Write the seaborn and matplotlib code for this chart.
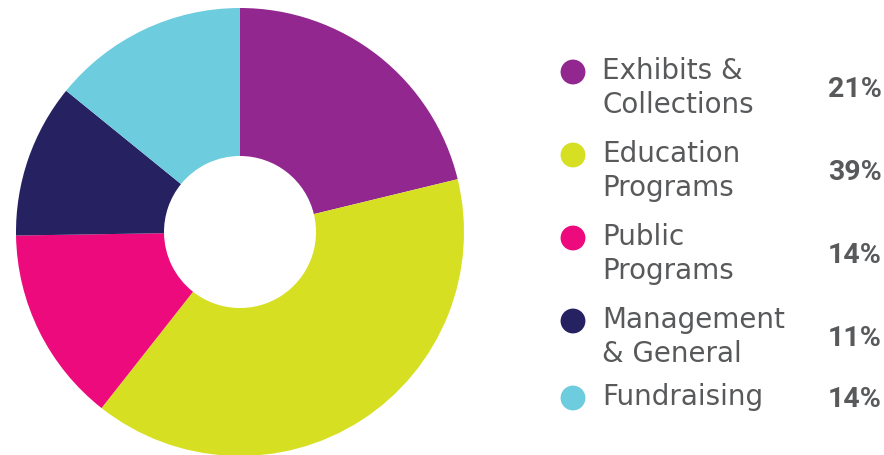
import matplotlib
matplotlib.use('Agg')
import seaborn as sns
import pandas as pd
import matplotlib.pyplot as plt

labels = ['Exhibits &\nCollections', 'Education\nPrograms', 'Public\nPrograms',
          'Management\n& General', 'Fundraising']
shares = [21, 39, 14, 11, 14]
colors = ['#92278F', '#D7DF23', '#EC0A7C', '#262262', '#6DCCDD']

sns.set_theme(style='white')
plt.rcParams['font.family'] = ['DejaVu Sans']
text_color = '#58595B'

W, H = 884, 456
fig = plt.figure(figsize=(W / 100, H / 100), dpi=100)

# donut
cx, cy, r_out, r_in = 240, 233, 224, 76
ax = fig.add_axes([(cx - r_out) / W, (H - cy - r_out) / H, 2 * r_out / W, 2 * r_out / H])
ax.pie(shares, colors=colors, startangle=90, counterclock=False, radius=1,
       wedgeprops=dict(width=1 - r_in / r_out, linewidth=0))
ax.set_xlim(-1, 1)
ax.set_ylim(-1, 1)
ax.set_aspect('equal')
ax.axis('off')

# legend in pixel coordinates
lax = fig.add_axes([0, 0, 1, 1])
row_base = [79, 162, 245, 328, 405]
leg = pd.DataFrame({'x': [573] * len(shares), 'y': [b - 6 for b in row_base], 'label': labels})
sns.scatterplot(data=leg, x='x', y='y', hue='label', palette=colors, s=320,
                linewidth=0, legend=False, ax=lax)
lax.set_xlim(0, W)
lax.set_ylim(H, 0)
lax.axis('off')

for lab, val, b in zip(labels, shares, row_base):
    lines = lab.split('\n')
    for i, line in enumerate(lines):
        lax.text(602, b + 34 * i, line, fontsize=20, color=text_color, va='baseline', ha='left')
    pb = b + 18 if len(lines) > 1 else b + 2
    lax.text(882, pb, '%d%%' % val, fontsize=20.5, color=text_color, va='baseline',
             ha='right', fontweight='bold', family=['Roboto', 'DejaVu Sans'])

fig.savefig('out.png', dpi=100)
